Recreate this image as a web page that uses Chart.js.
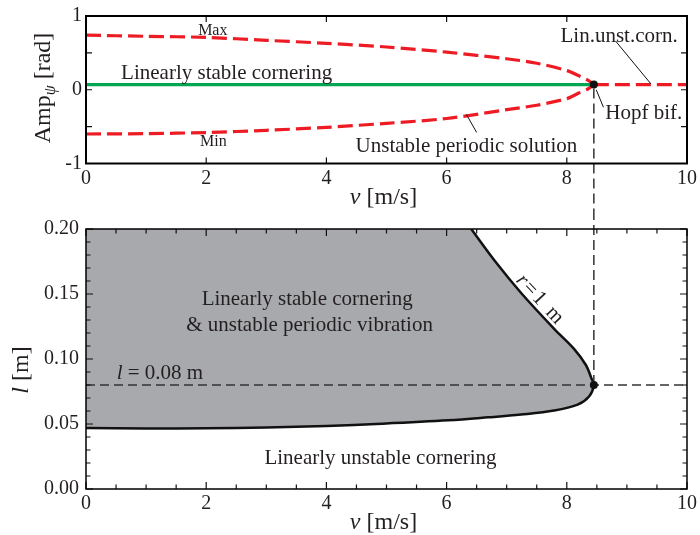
<!DOCTYPE html>
<html>
<head>
<meta charset="utf-8">
<title>Hopf bifurcation in cornering</title>
<script src="https://cdn.jsdelivr.net/npm/chart.js@4.4.1/dist/chart.umd.min.js"></script>
<style>
  body { margin: 0; background: #fff; }
  canvas { position: absolute; left: 0; }
  #top { top: 0; }
  #bottom { top: 210px; }
</style>
</head>
<body>
<canvas id="top" width="700" height="210"></canvas>
<canvas id="bottom" width="700" height="325"></canvas>
<script>
// top panel: yaw amplitude vs speed
const vBranch = [0, 1, 2, 3, 4, 5, 6, 7, 7.5, 8, 8.2, 8.35, 8.45];
const ampMax = [0.74, 0.725, 0.71, 0.67, 0.63, 0.58, 0.51, 0.42, 0.36, 0.26, 0.19, 0.13, 0.07];
const ampMin = [-0.6, -0.595, -0.58, -0.55, -0.51, -0.455, -0.39, -0.27, -0.21, -0.12, -0.045, 0.01, 0.07];
const vStable = [0, 8.45];
const ampStable = [0.07, 0.07];
const vUnstable = [8.45, 10];
const ampUnstable = [0.07, 0.07];
const hopfV = 8.45;
const hopfAmp = 0.07;
const ampTicks = [-1, -0.5, 0, 0.5, 1];
const vTicksTop = [0, 2, 4, 6, 8, 10];

// bottom panel: stability boundary in (v, l), r = 1 m
const vBound = [6.41, 6.83, 7.24, 7.79, 8.12, 8.32, 8.41, 8.45, 8.37, 8.18, 7.79, 7.24, 6.69, 6.03, 4.92, 4, 3, 2, 1, 0];
const lBound = [0.2, 0.1738, 0.1508, 0.1232, 0.1078, 0.0952, 0.0851, 0.08, 0.0712, 0.0649, 0.0604, 0.0573, 0.0551, 0.0528, 0.0502, 0.0485, 0.0474, 0.0467, 0.0466, 0.047];
const lRef = 0.08;
const vTicksMinor = [0, 0.5, 1, 1.5, 2, 2.5, 3, 3.5, 4, 4.5, 5, 5.5, 6, 6.5, 7, 7.5, 8, 8.5, 9, 9.5, 10];
const vTicksMajor = [0, 2, 4, 6, 8, 10];
const lTicksMinor = [0, 0.01, 0.02, 0.03, 0.04, 0.05, 0.06, 0.07, 0.08, 0.09, 0.1, 0.11, 0.12, 0.13, 0.14, 0.15, 0.16, 0.17, 0.18, 0.19, 0.2];
const lTicksMajor = [0, 0.05, 0.1, 0.15, 0.2];

const serif = '"Liberation Serif", "DejaVu Serif", serif';
const ink = '#231f20';
const red = '#ed1c24';

const pts = (xs, ys) => xs.map((x, i) => ({ x: x, y: ys[i] }));

function drawParts(ctx, parts, size, align) {
  let w = 0;
  parts.forEach(p => {
    ctx.font = (p.i ? 'italic ' : '') + (p.s || size) + 'px ' + serif;
    p.w = ctx.measureText(p.t).width;
    w += p.w;
  });
  let cx = align === 'left' ? 0 : -w / 2;
  parts.forEach(p => {
    ctx.font = (p.i ? 'italic ' : '') + (p.s || size) + 'px ' + serif;
    ctx.fillText(p.t, cx, p.dy || 0);
    cx += p.w;
  });
}

// text labels + leader lines, placed in data units
const notes = {
  id: 'notes',
  afterDatasetsDraw(chart, args, o) {
    const { ctx, chartArea: a, scales: { x, y } } = chart;
    ctx.save();
    ctx.fillStyle = ink;
    ctx.textAlign = 'left';
    (o.items || []).forEach(n => {
      ctx.save();
      ctx.textBaseline = n.base || 'alphabetic';
      if (n.spacing) ctx.letterSpacing = n.spacing;
      ctx.translate(x.getPixelForValue(n.x), y.getPixelForValue(n.y));
      if (n.rot) ctx.rotate(n.rot * Math.PI / 180);
      drawParts(ctx, n.parts, n.size, n.align);
      ctx.restore();
    });
    ctx.strokeStyle = '#111';
    ctx.lineWidth = 1;
    (o.leaders || []).forEach(l => {
      ctx.beginPath();
      ctx.moveTo(x.getPixelForValue(l[0]), y.getPixelForValue(l[1]));
      ctx.lineTo(x.getPixelForValue(l[2]), y.getPixelForValue(l[3]));
      ctx.stroke();
    });
    // axis titles (pixel offsets from the plot area)
    ctx.textBaseline = 'alphabetic';
    ctx.save();
    ctx.translate((a.left + a.right) / 2 - 3, a.bottom + 40);
    drawParts(ctx, [{ t: 'v', i: true }, { t: ' [m/s]' }], 24);
    ctx.restore();
    ctx.save();
    ctx.translate(o.yTitleX, o.yTitleY);
    ctx.rotate(-Math.PI / 2);
    drawParts(ctx, o.yTitle, 24);
    ctx.restore();
    ctx.restore();
  }
};

// inward ticks on all four sides + frame
const frame = {
  id: 'frame',
  afterDraw(chart, args, o) {
    const { ctx, chartArea: a, scales: { x, y } } = chart;
    ctx.save();
    ctx.strokeStyle = '#111';
    ctx.lineWidth = 1.2;
    ctx.beginPath();
    o.xTicks.forEach(v => {
      const p = x.getPixelForValue(v);
      const len = o.xMajor.includes(v) ? o.major : o.minor;
      ctx.moveTo(p, a.bottom); ctx.lineTo(p, a.bottom - len);
      ctx.moveTo(p, a.top); ctx.lineTo(p, a.top + len);
    });
    o.yTicks.forEach(v => {
      const p = y.getPixelForValue(v);
      const len = o.yMajor.includes(v) ? o.major : o.minor;
      ctx.moveTo(a.left, p); ctx.lineTo(a.left + len, p);
      ctx.moveTo(a.right, p); ctx.lineTo(a.right - len, p);
    });
    ctx.stroke();
    ctx.lineWidth = o.frameWidth;
    ctx.strokeStyle = '#000';
    ctx.strokeRect(a.left, a.top, a.width, a.height);
    ctx.restore();
  }
};

// gray region: left of the boundary curve, closed through the top-left corner
const region = {
  id: 'region',
  beforeDatasetsDraw(chart, args, o) {
    const { ctx, chartArea: a, scales: { x, y } } = chart;
    const line = chart.getDatasetMeta(o.dataset).dataset;
    if (!line || typeof line.path !== 'function') return;
    line.updateControlPoints(a, 'x');
    ctx.save();
    ctx.beginPath();
    ctx.rect(a.left, a.top, a.width, a.height);
    ctx.clip();
    ctx.beginPath();
    line.path(ctx);
    ctx.lineTo(x.getPixelForValue(x.min), y.getPixelForValue(y.max));
    ctx.closePath();
    ctx.fillStyle = o.color;
    ctx.fill();
    ctx.restore();
  }
};

// dashed drop line through the Hopf point, running off the canvas edge
const hopfLink = {
  id: 'hopfLink',
  afterDatasetsDraw(chart, args, o) {
    const { ctx, scales: { x, y } } = chart;
    const px = x.getPixelForValue(o.v), py = y.getPixelForValue(o.y);
    ctx.save();
    ctx.strokeStyle = '#333';
    ctx.lineWidth = 1.5;
    ctx.setLineDash([10, 5]);
    ctx.beginPath();
    if (o.down) { ctx.moveTo(px, py + 4); ctx.lineTo(px, chart.height); }
    else { ctx.moveTo(px, 0); ctx.lineTo(px, py); }
    ctx.stroke();
    ctx.setLineDash([]);
    ctx.fillStyle = '#111';
    ctx.beginPath();
    ctx.arc(px, py, 4, 0, Math.PI * 2);
    ctx.fill();
    ctx.restore();
  }
};

const tickFont = { family: serif, size: 20 };

function xScale(height, pad) {
  return {
    type: 'linear', min: 0, max: 10,
    ticks: { stepSize: 2, color: ink, font: tickFont, padding: pad, maxRotation: 0, autoSkip: false },
    grid: { display: false, drawTicks: false },
    border: { display: false },
    afterFit(s) { s.height = height; }
  };
}

new Chart(document.getElementById('top'), {
  type: 'scatter',
  data: {
    datasets: [
      { data: pts(vStable, ampStable), showLine: true, borderColor: '#00a651', borderWidth: 3.2, pointRadius: 0, order: 2 },
      { data: pts(vBranch, ampMax), showLine: true, borderColor: red, borderWidth: 3.2, borderDash: [15, 6], pointRadius: 0, tension: 0.3, order: 1 },
      { data: pts(vBranch, ampMin), showLine: true, borderColor: red, borderWidth: 3.2, borderDash: [15, 6], pointRadius: 0, tension: 0.3, order: 1 },
      { data: pts(vUnstable, ampUnstable), showLine: true, borderColor: red, borderWidth: 3.2, borderDash: [15, 6], pointRadius: 0, order: 1 }
    ]
  },
  options: {
    responsive: false,
    animation: false,
    events: [],
    layout: { padding: { top: 12.5, right: 10, left: 0, bottom: 0 } },
    scales: {
      x: xScale(46.5, 3),
      y: {
        min: -1, max: 1,
        ticks: { stepSize: 1, color: ink, font: tickFont, padding: 4 },
        grid: { display: false, drawTicks: false },
        border: { display: false },
        afterFit(s) { s.width = 86; }
      }
    },
    plugins: {
      legend: { display: false },
      tooltip: { enabled: false },
      frame: { xTicks: vTicksTop, xMajor: vTicksTop, yTicks: ampTicks, yMajor: ampTicks, major: 6, minor: 6, frameWidth: 2 },
      hopfLink: { v: hopfV, y: hopfAmp, down: true },
      notes: {
        items: [
          { x: 2.11, y: 0.746, parts: [{ t: 'Max' }], size: 16 },
          { x: 2.12, y: -0.764, parts: [{ t: 'Min' }], size: 16 },
          { x: 2.34, y: 0.142, parts: [{ t: 'Linearly stable cornering' }], size: 21 },
          { x: 8.87, y: 0.645, parts: [{ t: 'Lin.unst.corn.' }], size: 21 },
          { x: 9.28, y: -0.401, parts: [{ t: 'Hopf bif.' }], size: 21 },
          { x: 6.33, y: -0.844, parts: [{ t: 'Unstable periodic solution' }], size: 21 }
        ],
        leaders: [
          [8.81, 0.662, 9.40, 0.079],
          [8.49, 0.0, 8.61, -0.238],
          [6.33, -0.335, 6.50, -0.579]
        ],
        yTitleX: 50, yTitleY: 88,
        yTitle: [{ t: 'Amp' }, { t: 'ψ', i: true, s: 16, dy: 5 }, { t: ' [rad]' }]
      }
    }
  },
  plugins: [frame, hopfLink, notes]
});

new Chart(document.getElementById('bottom'), {
  type: 'scatter',
  data: {
    datasets: [
      { data: pts([0, 10], [lRef, lRef]), showLine: true, borderColor: '#333', borderWidth: 1.5, borderDash: [9, 5], pointRadius: 0, order: 2 },
      { data: pts(vBound, lBound), showLine: true, borderColor: '#111', borderWidth: 2.5, pointRadius: 0, tension: 0.35, order: 1 }
    ]
  },
  options: {
    responsive: false,
    animation: false,
    events: [],
    layout: { padding: { top: 15, right: 10, left: 0, bottom: 0 } },
    scales: {
      x: xScale(46, 3),
      y: {
        min: 0, max: 0.2,
        ticks: { stepSize: 0.05, color: ink, font: tickFont, padding: 7, callback: v => v.toFixed(2) },
        grid: { display: false, drawTicks: false },
        border: { display: false },
        afterFit(s) { s.width = 86; }
      }
    },
    plugins: {
      legend: { display: false },
      tooltip: { enabled: false },
      region: { dataset: 1, color: '#a7a9ac' },
      frame: { xTicks: vTicksMinor, xMajor: vTicksMajor, yTicks: lTicksMinor, yMajor: lTicksMajor, major: 7, minor: 4.5, frameWidth: 1.5 },
      hopfLink: { v: hopfV, y: lRef, down: false },
      notes: {
        items: [
          { x: 3.68, y: 0.1419, parts: [{ t: 'Linearly stable cornering' }], size: 21 },
          { x: 3.72, y: 0.1217, parts: [{ t: '& unstable periodic vibration' }], size: 21 },
          { x: 1.23, y: 0.0846, parts: [{ t: 'l', i: true }, { t: ' = 0.08 m' }], size: 21 },
          { x: 4.90, y: 0.0195, parts: [{ t: 'Linearly unstable cornering' }], size: 21 },
          { x: 7.56, y: 0.1455, parts: [{ t: 'r', i: true }, { t: '=1 m' }], size: 21, rot: 47, base: 'middle', spacing: '2px' }
        ],
        leaders: [],
        yTitleX: 28, yTitleY: 160,
        yTitle: [{ t: 'l', i: true }, { t: ' [m]' }]
      }
    }
  },
  plugins: [region, frame, hopfLink, notes]
});
</script>
</body>
</html>
